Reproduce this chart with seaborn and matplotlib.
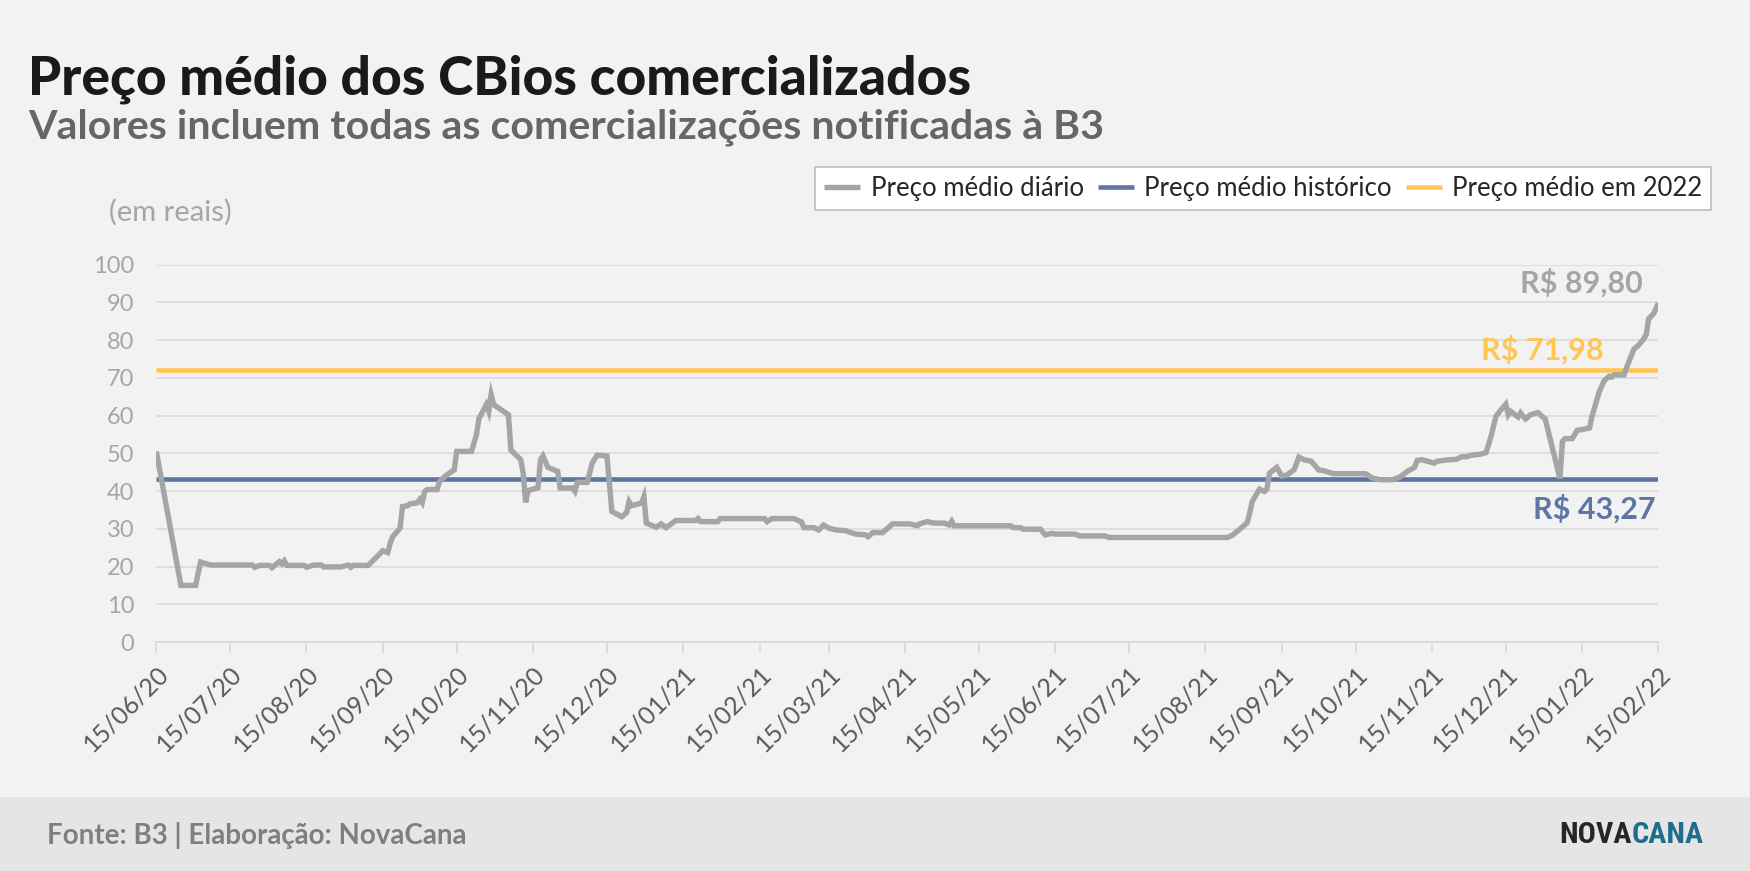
import matplotlib
matplotlib.use("Agg")
import matplotlib.pyplot as plt
import matplotlib.dates as mdates
from matplotlib.patches import Rectangle
import pandas as pd
import seaborn as sns

# Preço médio diário dos CBios
dates = [
    "2020-06-15", "2020-06-25", "2020-07-01", "2020-07-02", "2020-07-03", "2020-07-07",
    "2020-07-24", "2020-07-25", "2020-07-27", "2020-07-31", "2020-08-01", "2020-08-04",
    "2020-08-05", "2020-08-06", "2020-08-07", "2020-08-14", "2020-08-15", "2020-08-18",
    "2020-08-21", "2020-08-22", "2020-08-29", "2020-09-01", "2020-09-02", "2020-09-03",
    "2020-09-09", "2020-09-12", "2020-09-15", "2020-09-17", "2020-09-18", "2020-09-19",
    "2020-09-22", "2020-09-23", "2020-09-25", "2020-09-26", "2020-09-29", "2020-09-30",
    "2020-10-01", "2020-10-02", "2020-10-03", "2020-10-07", "2020-10-08", "2020-10-11",
    "2020-10-14", "2020-10-15", "2020-10-21", "2020-10-23", "2020-10-24", "2020-10-27",
    "2020-10-28", "2020-10-29", "2020-10-30", "2020-11-05", "2020-11-06", "2020-11-10",
    "2020-11-11", "2020-11-12", "2020-11-13", "2020-11-17", "2020-11-18", "2020-11-19",
    "2020-11-20", "2020-11-21", "2020-11-25", "2020-11-26", "2020-12-01", "2020-12-02",
    "2020-12-03", "2020-12-07", "2020-12-09", "2020-12-11", "2020-12-15", "2020-12-16",
    "2020-12-17", "2020-12-21", "2020-12-23", "2020-12-24", "2020-12-25", "2020-12-29",
    "2020-12-30", "2020-12-31", "2021-01-04", "2021-01-06", "2021-01-08", "2021-01-12",
    "2021-01-20", "2021-01-21", "2021-01-22", "2021-01-29", "2021-01-30", "2021-02-17",
    "2021-02-18", "2021-02-20", "2021-03-01", "2021-03-04", "2021-03-05", "2021-03-09",
    "2021-03-11", "2021-03-13", "2021-03-15", "2021-03-18", "2021-03-22", "2021-03-24",
    "2021-03-26", "2021-03-30", "2021-03-31", "2021-04-02", "2021-04-06", "2021-04-10",
    "2021-04-17", "2021-04-20", "2021-04-21", "2021-04-24", "2021-04-27", "2021-05-01",
    "2021-05-03", "2021-05-04", "2021-05-05", "2021-05-28", "2021-05-29", "2021-06-01",
    "2021-06-02", "2021-06-09", "2021-06-11", "2021-06-14", "2021-06-15", "2021-06-23",
    "2021-06-25", "2021-07-05", "2021-07-07", "2021-08-24", "2021-08-26", "2021-08-29",
    "2021-09-01", "2021-09-02", "2021-09-03", "2021-09-06", "2021-09-08", "2021-09-09",
    "2021-09-10", "2021-09-13", "2021-09-15", "2021-09-17", "2021-09-20", "2021-09-22",
    "2021-09-24", "2021-09-27", "2021-09-30", "2021-10-02", "2021-10-06", "2021-10-19",
    "2021-10-22", "2021-10-25", "2021-10-30", "2021-11-02", "2021-11-05", "2021-11-08",
    "2021-11-09", "2021-11-11", "2021-11-16", "2021-11-17", "2021-11-22", "2021-11-25",
    "2021-11-27", "2021-11-29", "2021-12-01", "2021-12-05", "2021-12-07", "2021-12-09",
    "2021-12-11", "2021-12-13", "2021-12-15", "2021-12-16", "2021-12-17", "2021-12-20",
    "2021-12-21", "2021-12-23", "2021-12-25", "2021-12-28", "2021-12-31", "2022-01-06",
    "2022-01-07", "2022-01-08", "2022-01-11", "2022-01-13", "2022-01-15", "2022-01-18",
    "2022-01-19", "2022-01-22", "2022-01-24", "2022-01-26", "2022-01-27", "2022-01-28",
    "2022-02-01", "2022-02-02", "2022-02-05", "2022-02-07", "2022-02-09", "2022-02-10",
    "2022-02-11", "2022-02-13", "2022-02-15",
]
prices = [
    50.5, 15.0, 15.0, 18.2, 21.2, 20.4,
    20.4, 19.8, 20.3, 20.3, 19.7, 21.3,
    20.7, 21.5, 20.3, 20.3, 19.8, 20.4,
    20.4, 19.9, 19.9, 20.4, 19.8, 20.3,
    20.3, 22.2, 24.2, 23.7, 26.2, 27.9,
    30.2, 35.9, 36.1, 36.6, 36.9, 37.8,
    36.9, 39.9, 40.4, 40.4, 42.5, 44.3,
    45.6, 50.5, 50.5, 54.9, 59.1, 62.9,
    61.1, 65.5, 62.9, 60.2, 50.9, 48.3,
    44.7, 37.0, 40.1, 40.9, 48.3, 49.3,
    47.8, 46.3, 45.2, 40.8, 40.8, 39.9,
    42.3, 42.3, 47.4, 49.5, 49.3, 42.1,
    34.6, 33.2, 34.3, 37.2, 36.1, 36.8,
    38.5, 31.5, 30.4, 31.3, 30.3, 32.2,
    32.2, 32.7, 31.9, 31.9, 32.7, 32.7,
    31.9, 32.7, 32.7, 31.8, 30.3, 30.3,
    29.7, 31.0, 30.2, 29.7, 29.5, 29.0,
    28.6, 28.4, 27.9, 29.0, 29.0, 31.3,
    31.3, 30.8, 31.3, 31.9, 31.5, 31.5,
    31.0, 32.0, 30.8, 30.8, 30.3, 30.3,
    29.9, 29.9, 28.4, 28.8, 28.6, 28.6,
    28.1, 28.1, 27.7, 27.7, 28.3, 29.9,
    31.6, 34.1, 37.2, 40.5, 39.9, 40.5,
    44.7, 46.3, 44.0, 44.2, 45.6, 49.0,
    48.3, 47.9, 45.6, 45.4, 44.6, 44.6,
    43.4, 43.0, 43.0, 43.7, 45.2, 46.3,
    48.1, 48.3, 47.4, 47.9, 48.3, 48.4,
    49.1, 49.1, 49.5, 49.8, 50.2, 54.5,
    59.8, 61.5, 63.0, 60.2, 61.1, 59.6,
    60.7, 59.1, 60.2, 60.8, 59.1, 43.3,
    53.1, 53.9, 53.9, 56.1, 56.3, 56.7,
    59.8, 66.4, 69.3, 70.4, 70.2, 70.8,
    70.8, 72.6, 77.6, 78.7, 80.3, 81.4,
    85.6, 87.0, 89.8,
]
hist_mean = 43.27
mean_2022 = 71.98
last_price = 89.80

series_labels = ["Preço médio diário", "Preço médio histórico", "Preço médio em 2022"]
GRAY = "#a5a5a5"
BLUE = "#5d76a4"
YELLOW = "#ffc653"
BG = "#f2f2f2"


def brl(v):
    return "R$ " + f"{v:.2f}".replace(".", ",")


df = pd.DataFrame({"data": pd.to_datetime(dates), "preco": prices})

sns.set_theme(style="whitegrid")
plt.rcParams["font.family"] = ["Lato", "DejaVu Sans"]

fig = plt.figure(figsize=(17.5, 8.71), dpi=100, facecolor=BG)
ax = fig.add_axes([0.0893, 0.2629, 0.8584, 0.4333])
ax.set_facecolor(BG)

ax.axhline(hist_mean, color=BLUE, lw=3.3, label=series_labels[1], zorder=2)
ax.axhline(mean_2022, color=YELLOW, lw=3.3, label=series_labels[2], zorder=2)
sns.lineplot(data=df, x="data", y="preco", ax=ax, color=GRAY, lw=3.9,
             label=series_labels[0], zorder=3)
for ln in ax.get_lines():
    ln.set_solid_joinstyle("miter")
    ln.set_solid_capstyle("butt")

ax.set_ylim(0, 100)
ax.set_yticks(range(0, 101, 10))
ax.set_xlim(pd.Timestamp("2020-06-15"), pd.Timestamp("2022-02-15"))
ax.xaxis.set_major_locator(mdates.MonthLocator(bymonthday=15))
ax.xaxis.set_major_formatter(mdates.DateFormatter("%d/%m/%y"))
ax.set_xlabel("")
ax.set_ylabel("")
ax.grid(axis="y", color="#dcdcdc", lw=1.3)
ax.grid(axis="x", visible=False)
for s in ["top", "right", "left"]:
    ax.spines[s].set_visible(False)
ax.spines["bottom"].set_color("#d9d9d9")
ax.spines["bottom"].set_linewidth(1.3)
ax.tick_params(axis="x", length=8, width=1.3, color="#d9d9d9", labelsize=18,
               labelcolor="#595959", pad=6, bottom=True)
ax.tick_params(axis="y", length=0, labelsize=17, labelcolor="#a6a6a6", pad=16)
plt.setp(ax.get_xticklabels(), rotation=45, ha="right", rotation_mode="anchor")

# legend: gray, blue, yellow
handles, labels = ax.get_legend_handles_labels()
order = [labels.index(l) for l in series_labels]
leg = ax.legend([handles[i] for i in order], [labels[i] for i in order],
                loc="upper right", bbox_to_anchor=(0.9777, 0.8083),
                bbox_transform=fig.transFigure, ncol=3, frameon=True,
                fancybox=False, framealpha=1, facecolor="white", edgecolor="#bfbfbf",
                fontsize=18.5, handlelength=1.4, handletextpad=0.4, columnspacing=0.55,
                borderpad=0.35, borderaxespad=0)
leg.get_frame().set_linewidth(1.2)
for t in leg.get_texts():
    t.set_color("#262626")

# value labels
trans = matplotlib.transforms.blended_transform_factory(ax.transAxes, ax.transData)
ax.text(0.9897, 95.1, brl(last_price), transform=trans, ha="right", va="center",
        fontsize=22, fontweight="bold", color=GRAY)
ax.text(0.9636, 77.5, brl(mean_2022), transform=trans, ha="right", va="center",
        fontsize=22, fontweight="bold", color=YELLOW)
ax.text(0.9977, 35.3, brl(hist_mean), transform=trans, ha="right", va="center",
        fontsize=22, fontweight="bold", color=BLUE)

# titles
fig.text(0.016, 0.8915, "Preço médio dos CBios comercializados", fontsize=38.3,
         fontweight="black", color="#1a1a1a", va="baseline", ha="left")
fig.text(0.016, 0.8411, "Valores incluem todas as comercializações notificadas à B3",
         fontsize=29.6, fontweight="bold", color="#666666", va="baseline", ha="left")
fig.text(0.0623, 0.7566, "(em reais)", fontsize=21, color="#a6a6a6", va="center", ha="left")

# footer band
fig.add_artist(Rectangle((0, 0), 1, 0.085, transform=fig.transFigure,
                         facecolor="#e5e5e5", edgecolor="none", zorder=0))
fig.text(0.027, 0.0413, "Fonte: B3 | Elaboração: NovaCana", fontsize=20,
         fontweight="bold", color="#7f7f7f", va="center", ha="left")

# logo: fit "NOVACANA" into ~144 px width, ending at x=1704
logo_font = ["Liberation Sans Narrow", "Roboto Condensed", "DejaVu Sans Condensed",
             "Roboto", "DejaVu Sans"]
probe = fig.text(0, 0, "NOVACANA", fontsize=30, fontweight="bold", family=logo_font)
fig.canvas.draw()
w = probe.get_window_extent().width
probe.remove()
logo_size = min(30 * 144 / w, 34)
cana = fig.text(1704 / 1750, 0.0413, "CANA", fontsize=logo_size, fontweight="bold",
                color="#1f6e8c", va="center", ha="right", family=logo_font)
fig.canvas.draw()
bb = cana.get_window_extent()
fig.text(bb.x0 / fig.bbox.width, 0.0413, "NOVA", fontsize=logo_size, fontweight="bold",
         color="#262626", va="center", ha="right", family=logo_font)

fig.savefig("out.png", dpi=100, facecolor=BG)
